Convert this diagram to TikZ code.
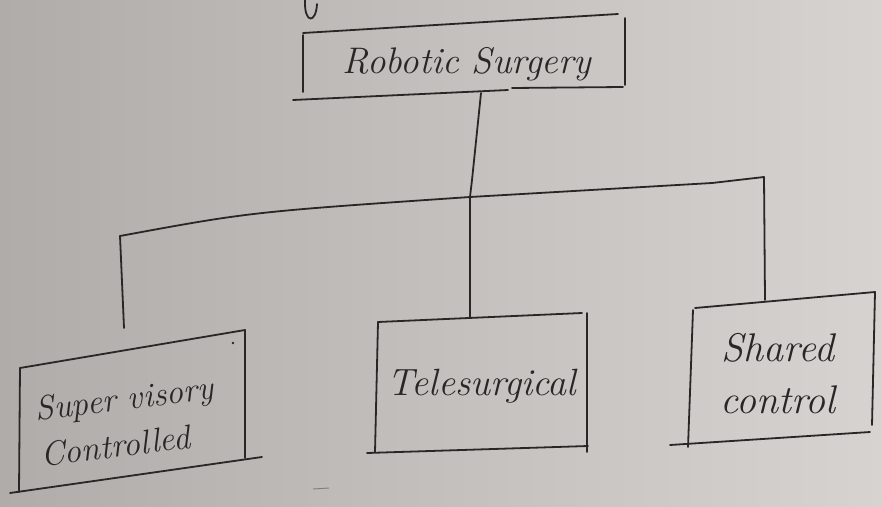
\documentclass[tikz,border=0pt]{standalone}
\usetikzlibrary{calc}
\definecolor{ink}{RGB}{42,38,38}
\definecolor{paperL}{RGB}{176,172,170}
\definecolor{paperR}{RGB}{214,211,209}
\begin{document}
\begin{tikzpicture}[x=1pt,y=-1pt,
  pen/.style={draw=ink,line width=1.8pt,line cap=round,line join=round},
  hand/.style={text=ink,font=\itshape,inner sep=0pt,align=center}]
\useasboundingbox (0,0) rectangle (882,506);
\shade[left color=paperL,right color=paperR] (0,0) rectangle (882,506);
% coordinates
\coordinate (rsB) at (481,93);
\coordinate (bend) at (472,180);
\coordinate (J) at (470,197);
\coordinate (L) at (120,236);
\coordinate (K) at (712,183);
\coordinate (R) at (764,177);
\coordinate (supT) at (124,328);
\coordinate (telT) at (470,318);
\coordinate (shT) at (765,300);
% top box
\draw[pen] (305,0) .. controls (304,24) and (316,24) .. (317,4);
\draw[pen] (303,33) -- (618,14);
\draw[pen] (303,35) -- (303,92);
\draw[pen] (625,18) -- (625,85);
\draw[pen] (293,100) -- (508,90);
\draw[pen] (512,88) -- (623,87);
\node[hand,font=\itshape\fontsize{37}{40}\selectfont] (rs) at (467,64) {Robotic Surgery};
% connectors
\draw[pen] (rsB) -- (bend) -- (J);
\draw[pen] (L) .. controls (250,212) .. (J) -- (K) -- (R);
\draw[pen] (L) -- (supT);
\draw[pen] (J) -- (telT);
\draw[pen] (R) -- (shT);
% supervisory box
\draw[pen] (20,368) -- (245,330);
\draw[pen] (20,368) -- (19,492);
\draw[pen] (245,330) -- (245,458);
\draw[pen] (10,493) -- (262,457);
\fill[ink] (233,343) circle (1.3);
\node[hand,align=left,rotate=7,font=\itshape\fontsize{34}{46}\selectfont] (sup) at (127,421) {Super visory\\Controlled};
% telesurgical box
\draw[pen] (378,322) -- (582,313);
\draw[pen] (378,322) -- (375,452);
\draw[pen] (587,313) -- (587,452);
\draw[pen] (367,453) -- (588,446);
\node[hand,font=\itshape\fontsize{38}{44}\selectfont] (tel) at (482,386) {Telesurgical};
% shared control box
\draw[pen] (695,308) -- (875,292);
\draw[pen] (693,310) -- (688,447);
\draw[pen] (875,292) -- (872,425);
\draw[pen] (670,445) -- (870,432);
\node[hand,font=\itshape\fontsize{40}{52}\selectfont] (sh) at (778,374) {Shared\\control};
% stray mark
\draw[draw=ink!60,line width=0.9pt] (313,489) -- (329,488);
\end{tikzpicture}
\end{document}
